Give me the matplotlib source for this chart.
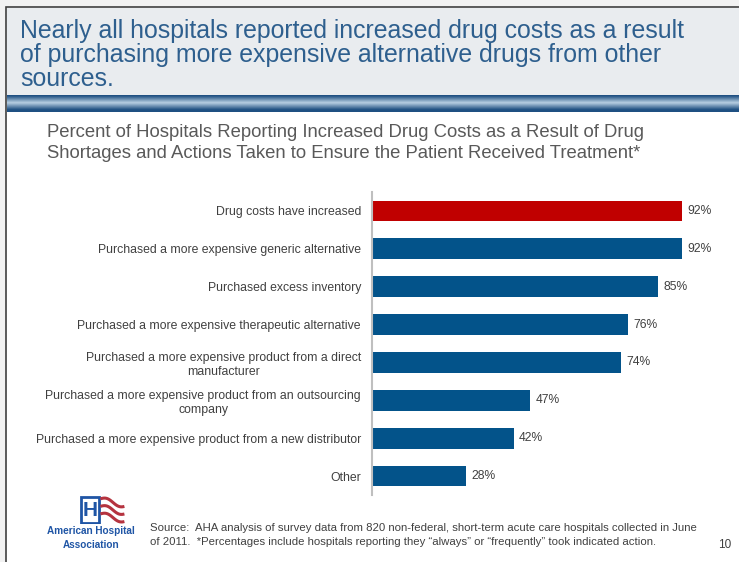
import numpy as np
import matplotlib.pyplot as plt
from matplotlib.patches import Rectangle

# Survey results, top to bottom
categories = [
    "Drug costs have increased",
    "Purchased a more expensive generic alternative",
    "Purchased excess inventory",
    "Purchased a more expensive therapeutic alternative",
    "Purchased a more expensive product from a direct\nmanufacturer",
    "Purchased a more expensive product from an outsourcing\ncompany",
    "Purchased a more expensive product from a new distributor",
    "Other",
]
percents = [92, 92, 85, 76, 74, 47, 42, 28]
bar_colors = ["#C00000"] + ["#03538A"] * 7

title = ("Nearly all hospitals reported increased drug costs as a result\n"
         "of purchasing more expensive alternative drugs from other\n"
         "sources.")
subtitle = ("Percent of Hospitals Reporting Increased Drug Costs as a Result of Drug\n"
            "Shortages and Actions Taken to Ensure the Patient Received Treatment*")
source = ("Source:  AHA analysis of survey data from 820 non-federal, short-term acute care hospitals collected in June\n"
          "of 2011.  *Percentages include hospitals reporting they \u201calways\u201d or \u201cfrequently\u201d took indicated action.")

W, H = 739, 562
plt.rcParams['font.family'] = ['Liberation Sans', 'DejaVu Sans']
narrow = ['Liberation Sans Narrow', 'Liberation Sans', 'DejaVu Sans']

fig = plt.figure(figsize=(W / 100, H / 100), dpi=100)
fig.patch.set_facecolor("#F2F2F2")

def box(x, y, w, h, **kw):
    # pixel box with top-left origin, drawn behind the axes
    fig.patches.append(Rectangle((x / W, 1 - (y + h) / H), w / W, h / H,
                                 transform=fig.transFigure, zorder=-5, **kw))

# slide body and header
box(6, 7, 740, 560, facecolor="white", edgecolor="#404040", linewidth=1.2)
box(7, 8, 740, 87, facecolor="#E9ECEF", edgecolor="none")

# gradient band under the header
band = fig.add_axes([7 / W, 1 - 112 / H, 1, 17 / H])
t = np.linspace(0, 1, 40)
shade = np.clip(1 - np.abs(t - 0.45) * 2.4, 0, 1)
top = np.array([0x1F, 0x50, 0x82]) / 255
mid = np.array([0xB8, 0xCF, 0xE2]) / 255
grad = top[None, :] * (1 - shade[:, None]) + mid[None, :] * shade[:, None]
band.imshow(grad[:, None, :], aspect="auto", extent=(0, 1, 0, 1))
band.axis("off")

fig.text(20 / W, 1 - 19 / H, title, ha="left", va="top", fontsize=17.9,
         color="#2E5F8E", linespacing=0.99)
fig.text(47 / W, 1 - 124 / H, subtitle, ha="left", va="top", fontsize=13.3,
         color="#595959", linespacing=1.28)

# bar chart
ax = fig.add_axes([372 / W, 1 - 495 / H, 337 / W, 303 / H])
y = np.arange(len(categories))
ax.barh(y, percents, height=0.55, color=bar_colors)
for yi, v in zip(y, percents):
    ax.text(v + 1.5, yi, f"{v}%", va="center", ha="left", fontsize=8.7, color="#404040")

ax.set_xlim(0, 100)
ax.set_ylim(len(categories) - 0.5, -0.5)
ax.set_yticks(y)
ax.set_yticklabels(categories, fontsize=8.8, color="#404040", multialignment="center")
ax.tick_params(axis="y", length=0, pad=8)
ax.set_xticks([])
for s in ("top", "right", "bottom"):
    ax.spines[s].set_visible(False)
ax.spines["left"].set_color("#BFBFBF")
ax.spines["left"].set_linewidth(1.5)
ax.set_facecolor("none")

# AHA logo
logo = fig.add_axes([80 / W, 1 - 524 / H, 48 / W, 28 / H])
logo.set_xlim(0, 2)
logo.set_ylim(0, 1)
logo.add_patch(Rectangle((0.05, 0.05), 0.75, 0.9, facecolor="white", edgecolor="#1F55A5", linewidth=2))
logo.text(0.43, 0.48, "H", ha="center", va="center", fontsize=15, fontweight="bold", color="#1F55A5")
xs = np.linspace(0.85, 1.85, 30)
for k in range(3):
    base = 0.9 - k * 0.27
    logo.plot(xs, base - 0.25 * (xs - 0.85) + 0.08 * np.sin((xs - 0.85) * 6),
              color="#B5333F", linewidth=2.2, solid_capstyle="butt")
logo.axis("off")
fig.text(91 / W, 1 - 538 / H, "American Hospital\nAssociation", ha="center", va="center",
         fontsize=7.2, fontweight="bold", color="#1F55A5", linespacing=1.45)

fig.text(150 / W, 1 - 535 / H, source, ha="left", va="center", fontsize=8.2,
         color="#404040", family=narrow, linespacing=1.4)
fig.text(718 / W, 1 - 545 / H, "10", ha="left", va="center", fontsize=8.5, color="#404040")

fig.savefig("out.png", dpi=100, facecolor=fig.get_facecolor())
